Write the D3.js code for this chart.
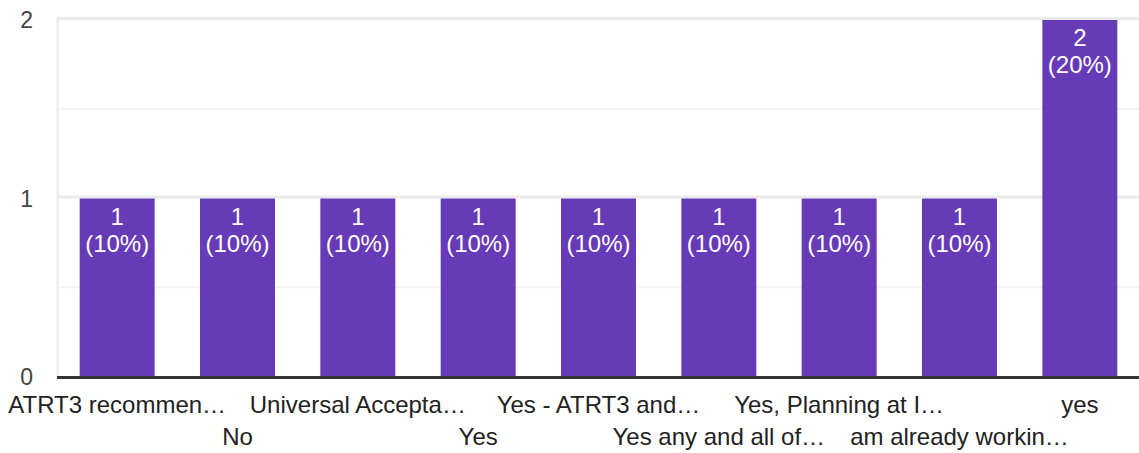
<!DOCTYPE html>
<html>
<head>
<meta charset="utf-8">
<script src="https://cdn.jsdelivr.net/npm/d3@7"></script>
<style>
  html, body { margin: 0; padding: 0; background: #fff; }
  svg { display: block; font-family: "Liberation Sans", Arial, sans-serif; }
</style>
</head>
<body>
<div id="chart"></div>
<script>
// answers (truncated as in the chart) and their counts
var categories = [
  'ATRT3 recommen\u2026',
  'No',
  'Universal Accepta\u2026',
  'Yes',
  'Yes - ATRT3 and\u2026',
  'Yes any and all of\u2026',
  'Yes, Planning at I\u2026',
  'am already workin\u2026',
  'yes'
];
var counts = [1, 1, 1, 1, 1, 1, 1, 1, 2];
var percents = ['10%', '10%', '10%', '10%', '10%', '10%', '10%', '10%', '20%'];
var yTicks = [0, 1, 2];
var yMinorTicks = [0.5, 1.5];

var w = 1139, h = 453;
var plotLeft = 57, plotRight = 1140, plotTop = 20, plotBottom = 377;

var svg = d3.select('#chart').append('svg')
  .attr('width', w)
  .attr('height', h);

var x = d3.scaleBand()
  .domain(categories)
  .range([plotLeft, plotRight])
  .paddingInner(0.377)
  .paddingOuter(0.1885);

var y = d3.scaleLinear()
  .domain([0, 2])
  .range([plotBottom, plotTop]);

// minor gridlines
svg.append('g').selectAll('line')
  .data(yMinorTicks)
  .enter().append('line')
  .attr('x1', plotLeft).attr('x2', w)
  .attr('y1', function(d) { return y(d) - 0.5; })
  .attr('y2', function(d) { return y(d) - 0.5; })
  .style('stroke', '#f3f3f3')
  .style('stroke-width', 2);

// major gridlines
svg.append('g').selectAll('line')
  .data(yTicks.filter(function(d) { return d > 0; }))
  .enter().append('line')
  .attr('x1', plotLeft).attr('x2', w)
  .attr('y1', function(d) { return y(d) - 1.5; })
  .attr('y2', function(d) { return y(d) - 1.5; })
  .style('stroke', '#ebebeb')
  .style('stroke-width', 3);

// left frame line
svg.append('line')
  .attr('x1', plotLeft + 0.5).attr('x2', plotLeft + 0.5)
  .attr('y1', y(2) - 3).attr('y2', plotBottom)
  .style('stroke', '#ebebeb')
  .style('stroke-width', 2);

// bars
svg.append('g').selectAll('rect')
  .data(counts)
  .enter().append('rect')
  .attr('x', function(d, i) { return x(categories[i]); })
  .attr('width', x.bandwidth())
  .attr('y', function(d) { return y(d); })
  .attr('height', function(d) { return y(0) - y(d); })
  .style('fill', '#673ab7');

// bar labels
var lab = svg.append('g').selectAll('text')
  .data(counts)
  .enter().append('text')
  .attr('text-anchor', 'middle')
  .style('fill', '#fff')
  .style('font-size', '24px');

lab.append('tspan')
  .attr('x', function(d, i) { return x(categories[i]) + x.bandwidth() / 2; })
  .attr('y', function(d) { return y(d) + 26; })
  .text(String);

lab.append('tspan')
  .attr('x', function(d, i) { return x(categories[i]) + x.bandwidth() / 2; })
  .attr('y', function(d) { return y(d) + 53; })
  .text(function(d, i) { return '(' + percents[i] + ')'; });

// baseline
svg.append('line')
  .attr('x1', plotLeft).attr('x2', w)
  .attr('y1', plotBottom + 0.5).attr('y2', plotBottom + 0.5)
  .style('stroke', '#333')
  .style('stroke-width', 3);

// y tick labels
svg.append('g').selectAll('text')
  .data(yTicks)
  .enter().append('text')
  .attr('x', 33)
  .attr('y', function(d) { return y(d); })
  .attr('dy', '0.36em')
  .attr('text-anchor', 'end')
  .style('fill', '#444')
  .style('font-size', '23px')
  .text(String);

// x labels, staggered on two rows
svg.append('g').selectAll('text')
  .data(categories)
  .enter().append('text')
  .attr('x', function(d) { return x(d) + x.bandwidth() / 2; })
  .attr('y', function(d, i) { return i % 2 === 0 ? 413 : 445; })
  .attr('text-anchor', 'middle')
  .style('fill', '#222')
  .style('font-size', '24px')
  .text(String);
</script>
</body>
</html>
